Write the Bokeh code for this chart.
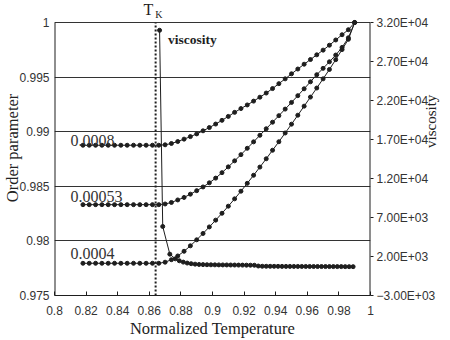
import math
from bokeh.plotting import figure
from bokeh.models import (Range1d, LinearAxis, FixedTicker, CustomJSTickFormatter, Label)
from bokeh.embed import file_html
from bokeh.resources import INLINE

# ---------------- data ----------------
T_ORDER = [0.818, 0.822, 0.826, 0.830, 0.834, 0.838, 0.842, 0.846, 0.850, 0.854,
           0.858, 0.862, 0.866, 0.870, 0.874, 0.878, 0.882, 0.886, 0.890, 0.894,
           0.898, 0.902, 0.906, 0.910, 0.914, 0.918, 0.922, 0.926, 0.930, 0.934,
           0.938, 0.942, 0.946, 0.950, 0.954, 0.958, 0.962, 0.966, 0.970, 0.974,
           0.978, 0.982, 0.986, 0.990]

OP_0008 = [0.98876] * 13 + [
    0.98880, 0.98892, 0.98910, 0.98932, 0.98955, 0.98980, 0.99008, 0.99038,
    0.99070, 0.99104, 0.99140, 0.99177, 0.99212, 0.99245, 0.99280, 0.99316,
    0.99354, 0.99395, 0.99440, 0.99484, 0.99530, 0.99574, 0.99618, 0.99661,
    0.99704, 0.99747, 0.99792, 0.99840, 0.99888, 0.99934, 1.00000]

OP_00053 = [0.98332] * 13 + [
    0.98338, 0.98352, 0.98375, 0.98398, 0.98428, 0.98460, 0.98494, 0.98532,
    0.98575, 0.98625, 0.98678, 0.98733, 0.98790, 0.98848, 0.98907, 0.98967,
    0.99027, 0.99087, 0.99147, 0.99207, 0.99268, 0.99330, 0.99393, 0.99457,
    0.99522, 0.99580, 0.99640, 0.99702, 0.99772, 0.99860, 1.00000]

OP_0004 = [0.97795] * 13 + [
    0.97805, 0.97828, 0.97862, 0.97905, 0.97955, 0.98010, 0.98068, 0.98128,
    0.98190, 0.98253, 0.98318, 0.98385, 0.98455, 0.98527, 0.98601, 0.98676,
    0.98752, 0.98830, 0.98908, 0.98988, 0.99069, 0.99151, 0.99234, 0.99317,
    0.99400, 0.99484, 0.99570, 0.99660, 0.99752, 0.99846, 1.00000]

SERIES_NAMES = ["0.0008", "0.00053", "0.0004"]

T_VISC = [0.8665, 0.8685, 0.8730, 0.8765, 0.8790, 0.8815, 0.8840, 0.8865, 0.8890,
          0.8915, 0.8940, 0.8965, 0.8990, 0.9015, 0.9040, 0.9065, 0.9090, 0.9115,
          0.9140, 0.9165, 0.9190, 0.9215, 0.9240, 0.9265, 0.9290, 0.9315, 0.9340,
          0.9365, 0.9390, 0.9415, 0.9440, 0.9465, 0.9490, 0.9515, 0.9540, 0.9565,
          0.9590, 0.9615, 0.9640, 0.9665, 0.9690, 0.9715, 0.9740, 0.9765, 0.9790,
          0.9815, 0.9840, 0.9865, 0.9890]
VISC = [31000, 5850, 2300, 1700, 1450, 1280, 1160, 1080, 1020, 980, 960, 945, 935,
        930, 925, 920, 915, 910, 905, 900, 895, 890, 885, 880, 780, 750, 745, 740,
        738, 735, 732, 730, 728, 726, 724, 722, 720, 718, 716, 714, 712, 710, 708,
        706, 704, 702, 700, 698, 696]

TK = 0.864

X_TICKS = [0.8, 0.82, 0.84, 0.86, 0.88, 0.9, 0.92, 0.94, 0.96, 0.98, 1.0]
X_TICK_LABELS = ["0.8", "0.82", "0.84", "0.86", "0.88", "0.9", "0.92", "0.94",
                 "0.96", "0.98", "1"]
Y_TICKS = [0.975, 0.98, 0.985, 0.99, 0.995, 1.0]
Y_TICK_LABELS = ["0.975", "0.98", "0.985", "0.99", "0.995", "1"]
V_TICKS = [-3000, 2000, 7000, 12000, 17000, 22000, 27000, 32000]
V_TICK_LABELS = ["\u22123.00E+03", "2.00E+03", "7.00E+03", "1.20E+04", "1.70E+04",
                 "2.20E+04", "2.70E+04", "3.20E+04"]

X_MIN, X_MAX = 0.8, 1.0
Y_MIN, Y_MAX = 0.975, 1.0
V_MIN, V_MAX = -3000, 32000

# ---------------- figure ----------------
INK = "#1e1e1e"
SERIF = "Liberation Serif"
SANS = "Liberation Sans"

# the frame reaches the top of the canvas so the T_K note above the box can be drawn;
# the box's top edge is the grid line at 1.0
HEAD = 0.0020147  # y span added above 1.0 (22 px)
p = figure(width=450, height=340, output_backend="svg", toolbar_location=None,
           x_range=Range1d(X_MIN, X_MAX), y_range=Range1d(Y_MIN, Y_MAX + HEAD),
           min_border_left=54, min_border_right=79, min_border_top=0,
           min_border_bottom=45)
p.extra_y_ranges = {"visc": Range1d(V_MIN, V_MAX + HEAD / (Y_MAX - Y_MIN) * (V_MAX - V_MIN))}
p.background_fill_color = "white"
p.border_fill_color = "white"
p.outline_line_color = None

fmt_code = """
const i = tv.findIndex(t => Math.abs(t - tick) < 1e-9);
return i >= 0 ? tl[i] : "";
"""

def make_fmt(vals, labels):
    return CustomJSTickFormatter(args=dict(tv=vals, tl=labels), code=fmt_code)

# x axis
xa = p.xaxis[0]
xa.ticker = FixedTicker(ticks=X_TICKS)
xa.formatter = make_fmt(X_TICKS, X_TICK_LABELS)
xa.axis_label = "Normalized Temperature"
xa.major_tick_in = 4
xa.major_tick_out = 0
xa.minor_tick_line_color = None
xa.major_label_standoff = 10
xa.axis_label_standoff = 1

# left axis
ya = p.yaxis[0]
ya.ticker = FixedTicker(ticks=Y_TICKS)
ya.formatter = make_fmt(Y_TICKS, Y_TICK_LABELS)
ya.axis_label = "Order parameter"
ya.major_tick_in = 0
ya.major_tick_out = 0
ya.minor_tick_line_color = None
ya.major_label_standoff = 5
ya.axis_label_standoff = -6

# right axis
ra = LinearAxis(y_range_name="visc", axis_label="viscosity")
ra.ticker = FixedTicker(ticks=V_TICKS)
ra.formatter = make_fmt(V_TICKS, V_TICK_LABELS)
ra.major_tick_in = 0
ra.major_tick_out = 3
ra.minor_tick_line_color = None
ra.major_label_standoff = 3
ra.axis_label_standoff = -7
ra.axis_label_orientation = math.pi / 2
p.add_layout(ra, "right")

for ax in (xa, ya, ra):
    ax.axis_line_color = INK
    ax.major_tick_line_color = INK
    ax.major_label_text_font = SANS
    ax.major_label_text_font_size = "12px"
    ax.major_label_text_color = "#333333"
    ax.axis_label_text_font = SERIF
    ax.axis_label_text_font_size = "16.5px"
    ax.axis_label_text_font_style = "normal"
    ax.axis_label_text_color = "#222222"
ya.axis_line_color = None
ra.axis_line_color = None
ra.axis_label_text_font_size = "15px"

p.xgrid.grid_line_color = None
p.ygrid.ticker = FixedTicker(ticks=Y_TICKS)
p.ygrid.grid_line_color = "#333333"
p.ygrid.grid_line_width = 1

# left and right edges of the box (only up to the 1.0 line)
p.segment(x0=[X_MIN, X_MAX], y0=[Y_MIN, Y_MIN], x1=[X_MIN, X_MAX], y1=[Y_MAX, Y_MAX],
          line_color=INK, line_width=2)

# T_K dotted line
p.segment(x0=[TK], y0=[Y_MIN], x1=[TK], y1=[Y_MAX], line_color=INK,
          line_dash="2 2", line_width=2)

# order parameter curves
for ys in (OP_0008, OP_00053, OP_0004):
    p.line(T_ORDER, ys, line_color=INK, line_width=1)
    p.scatter(T_ORDER, ys, marker="circle", size=4, fill_color=INK, line_color=INK)

# viscosity curve
p.line(T_VISC, VISC, y_range_name="visc", line_color=INK, line_width=1)
p.scatter(T_VISC, VISC, y_range_name="visc", marker="circle", size=4,
          fill_color=INK, line_color=INK)

# labels
lab_pos = [(0.8101, 0.98922), (0.8101, 0.98409), (0.8101, 0.97887)]
for name, (lx, ly) in zip(SERIES_NAMES, lab_pos):
    p.add_layout(Label(x=lx, y=ly, text=name, text_font=SERIF, text_font_size="16px",
                       text_color="#333333", text_baseline="alphabetic"))

p.add_layout(Label(x=0.8719, y=0.99842, text="viscosity", text_font=SERIF,
                   text_font_size="13.5px", text_font_style="bold",
                   text_color=INK, text_baseline="alphabetic"))
p.add_layout(Label(x=0.8563, y=1.0012, text="T", text_font=SERIF,
                   text_font_size="16px", text_color=INK, text_baseline="alphabetic"))
p.add_layout(Label(x=0.8637, y=1.00075, text="K", text_font=SERIF,
                   text_font_size="10px", text_color=INK, text_baseline="alphabetic"))

open("out.html", "w").write(file_html(p, INLINE))
